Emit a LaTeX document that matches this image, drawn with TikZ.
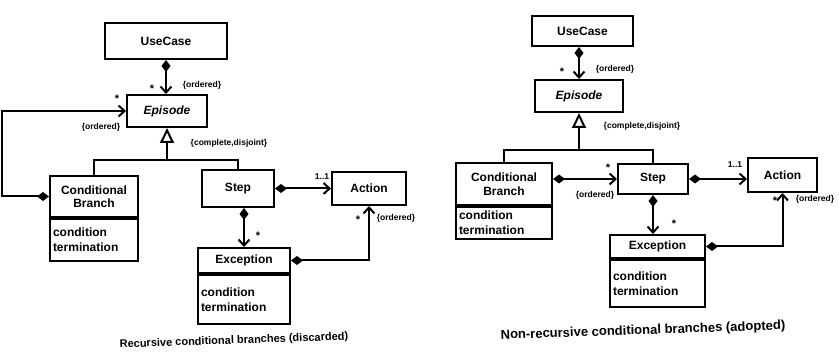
\documentclass[tikz,border=0pt]{standalone}
\usepackage{fontspec}
\setmainfont{Liberation Sans}
\usetikzlibrary{arrows.meta}
\begin{document}
\begin{tikzpicture}[x=1pt,y=-1pt,
  cls/.style={draw, line width=2pt, rectangle, inner sep=1pt, align=center,
    font=\bfseries\fontsize{12}{13.5}\selectfont},
  attr/.style={draw, line width=2pt, rectangle, inner xsep=3pt, inner ysep=1pt, align=left,
    font=\bfseries\fontsize{12}{15}\selectfont},
  lbl/.style={inner sep=0pt, font=\bfseries\fontsize{8.5}{9}\selectfont},
  star/.style={inner sep=0pt, font=\bfseries\fontsize{11}{11}\selectfont},
  captxt/.style={inner sep=0pt, rotate=2, font=\bfseries},
  conn/.style={line width=2pt},
  comp/.style={conn, {Diamond[length=12pt,width=9pt]}-{Straight Barb[length=6pt,width=11pt]}},
  gen/.style={conn, -{Triangle[open,length=15pt,width=14pt,fill=white]}}
]
\useasboundingbox (0,0) rectangle (839,355);

% ---------------- left panel ----------------
\node[cls, minimum width=122pt, minimum height=36pt] (ucL) at (166,41) {UseCase};
\node[cls, minimum width=80pt, minimum height=32pt, font=\bfseries\itshape\fontsize{12}{13.5}\selectfont] (epL) at (167,111) {Episode};
\node[cls, minimum width=88pt, minimum height=41pt] (cbtL) at (94,196.5) {Conditional\\Branch};
\node[attr, text width=82pt, minimum height=42pt, anchor=north] (cbaL) at (cbtL.south) {condition\\termination};
\node[cls, minimum width=72pt, minimum height=37pt] (stL) at (238,188.5) {Step};
\node[cls, minimum width=74pt, minimum height=33pt] (acL) at (369,188.5) {Action};
\node[cls, minimum width=92pt, minimum height=25pt] (extL) at (244,260.5) {Exception};
\node[attr, text width=86pt, minimum height=49pt, anchor=north] (exaL) at (extL.south) {condition\\termination};

\draw[comp] (ucL.south) -- (ucL.south |- epL.north);
\node[star] (s1L) at (152,89) {*};
\node[lbl] (o1L) at (202,85) {\{ordered\}};

\coordinate (offL) at (2,111);
\draw[comp] (cbtL.west) -| (offL) -- (epL.west);
\node[star] (s2L) at (117,99) {*};
\node[lbl] (o2L) at (101,127) {\{ordered\}};

\coordinate (jL) at (167,160);
\draw[gen] (jL) -- (epL.south);
\draw[conn] (cbtL.north) |- (jL) -| (stL.north);
\node[lbl] (cdL) at (229,143) {\{complete,disjoint\}};

\draw[comp] (stL.east |- acL.west) -- (acL.west);
\node[lbl] (m1L) at (322,177) {1..1};

\draw[comp] (stL.south -| extL.north) -- (extL.north);
\node[star] (s3L) at (258,236) {*};

\draw[comp] (extL.east) -| (acL.south);
\node[star] (s4L) at (358,220) {*};
\node[lbl] (o3L) at (396,218) {\{ordered\}};

\node[captxt, font=\bfseries\fontsize{11}{12}\selectfont] (capL) at (234,341) {Recursive conditional branches (discarded)};

% ---------------- right panel ----------------
\node[cls, minimum width=101pt, minimum height=30pt] (ucR) at (582.5,31) {UseCase};
\node[cls, minimum width=88pt, minimum height=32pt, font=\bfseries\itshape\fontsize{12}{13.5}\selectfont] (epR) at (579,96) {Episode};
\node[cls, minimum width=96pt, minimum height=42pt] (cbtR) at (504,184) {Conditional\\Branch};
\node[attr, text width=90pt, minimum height=32pt, anchor=north] (cbaR) at (cbtR.south) {condition\\termination};
\node[cls, minimum width=70pt, minimum height=30pt] (stR) at (653,179) {Step};
\node[cls, minimum width=69pt, minimum height=34pt] (acR) at (782.5,175) {Action};
\node[cls, minimum width=95pt, minimum height=23pt] (extR) at (657.5,246.5) {Exception};
\node[attr, text width=89pt, minimum height=47pt, anchor=north] (exaR) at (extR.south) {condition\\termination};

\draw[comp] (ucR.south -| epR.north) -- (epR.north);
\node[star] (s1R) at (562,72) {*};
\node[lbl] (o1R) at (615,69) {\{ordered\}};

\coordinate (jR) at (579,150);
\draw[gen] (jR) -- (epR.south);
\draw[conn] (cbtR.north) |- (jR) -| (stR.north);
\node[lbl] (cdR) at (642,126) {\{complete,disjoint\}};

\draw[comp] (cbtR.east |- stR.west) -- (stR.west);
\node[star] (s2R) at (608,168) {*};
\node[lbl] (o2R) at (595,195) {\{ordered\}};

\draw[comp] (stR.east) -- (stR.east -| acR.west);
\node[lbl] (m1R) at (735,165) {1..1};

\draw[comp] (stR.south) -- (stR.south |- extR.north);
\node[star] (s3R) at (674,224) {*};

\draw[comp] (extR.east) -| (acR.south);
\node[star] (s4R) at (775,201) {*};
\node[lbl] (o3R) at (815,199) {\{ordered\}};

\node[captxt, font=\bfseries\fontsize{13}{14}\selectfont] (capR) at (643,331) {Non-recursive conditional branches (adopted)};
\end{tikzpicture}
\end{document}
